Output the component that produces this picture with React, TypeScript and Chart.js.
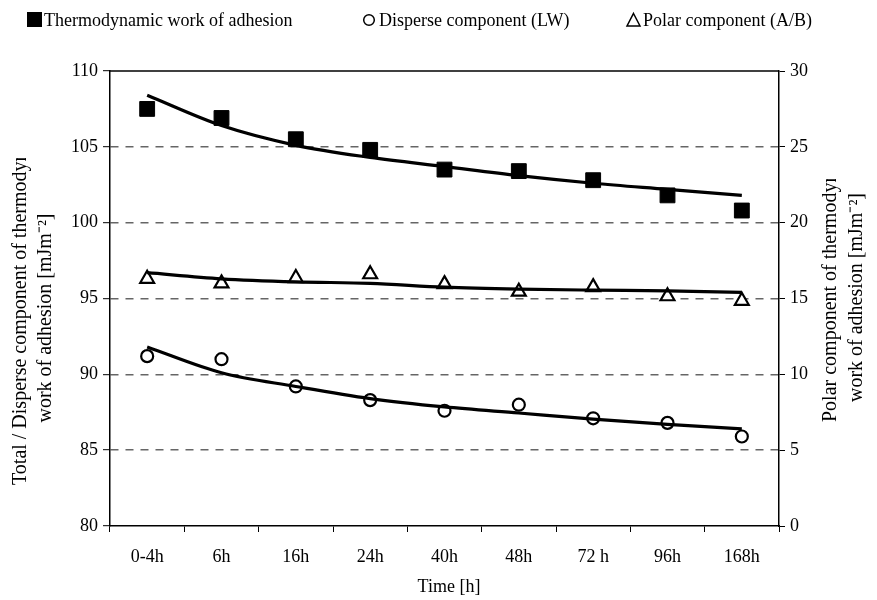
import React, { useEffect, useRef } from "react";
import { Chart, registerables } from "chart.js";

Chart.register(...registerables);

// Sampling times
const categories = ["0-4h", "6h", "16h", "24h", "40h", "48h", "72 h", "96h", "168h"];

// Measured values [mJ m^-2]
const workOfAdhesion = [107.5, 106.9, 105.5, 104.8, 103.5, 103.4, 102.8, 101.8, 100.8];
const disperseLW = [91.2, 91.0, 89.2, 88.3, 87.6, 88.0, 87.1, 86.8, 85.9];
const polarAB = [16.3, 16.0, 16.35, 16.6, 15.95, 15.45, 15.75, 15.15, 14.85];

// Trend lines through each series
const workTrend = [108.4, 106.4, 105.1, 104.3, 103.7, 103.1, 102.6, 102.2, 101.8];
const disperseTrend = [91.8, 90.1, 89.2, 88.4, 87.85, 87.45, 87.05, 86.7, 86.4];
const polarTrend = [16.7, 16.3, 16.1, 16.0, 15.75, 15.62, 15.55, 15.5, 15.4];

// Axis ranges
const leftMin = 80;
const leftMax = 110;
const rightMin = 0;
const rightMax = 30;
const tickStep = 5;

const FONT = "'Liberation Serif', 'Times New Roman', serif";

const legendItems = [
  { label: "Thermodynamic work of adhesion", marker: "square" },
  { label: "Disperse component (LW)", marker: "circle" },
  { label: "Polar component (A/B)", marker: "triangle" },
];

function drawVertical(
  ctx: CanvasRenderingContext2D,
  text: string,
  x: number,
  y: number,
  align: CanvasTextAlign,
  visiblePrefix?: string
) {
  ctx.save();
  ctx.translate(x, y);
  ctx.rotate(-Math.PI / 2);
  ctx.font = `20px ${FONT}`;
  ctx.fillStyle = "#000";
  ctx.textAlign = align;
  ctx.textBaseline = "alphabetic";
  if (visiblePrefix) {
    const w = ctx.measureText(visiblePrefix).width + ctx.measureText("n").width * 0.35;
    ctx.beginPath();
    ctx.rect(0, -30, w, 40);
    ctx.clip();
  }
  ctx.fillText(text, 0, 0);
  ctx.restore();
}

const decorations = {
  id: "decorations",
  afterDraw(chart: Chart) {
    const { ctx, chartArea } = chart;
    ctx.save();

    // top frame line
    ctx.strokeStyle = "#000";
    ctx.lineWidth = 1.5;
    ctx.beginPath();
    ctx.moveTo(chartArea.left, chartArea.top);
    ctx.lineTo(chartArea.right, chartArea.top);
    ctx.stroke();

    // legend row
    const legendX = [27, 363, 627];
    ctx.font = `18px ${FONT}`;
    ctx.fillStyle = "#000";
    ctx.textBaseline = "alphabetic";
    ctx.textAlign = "left";
    legendItems.forEach((item, i) => {
      const x = legendX[i];
      ctx.lineWidth = 1.5;
      ctx.strokeStyle = "#000";
      let textX = x;
      if (item.marker === "square") {
        ctx.fillRect(x, 12, 15, 15);
        textX = x + 17;
      } else if (item.marker === "circle") {
        ctx.beginPath();
        ctx.arc(x + 6, 20, 5.3, 0, Math.PI * 2);
        ctx.stroke();
        textX = x + 16;
      } else {
        ctx.beginPath();
        ctx.moveTo(x + 6.5, 13.5);
        ctx.lineTo(x + 13, 26);
        ctx.lineTo(x, 26);
        ctx.closePath();
        ctx.stroke();
        textX = x + 16;
      }
      ctx.fillText(item.label, textX, 26);
    });

    // x axis title
    ctx.textAlign = "center";
    ctx.font = `18px ${FONT}`;
    ctx.fillText("Time [h]", 449, 592);
    ctx.restore();

    // left axis title (two lines)
    drawVertical(
      ctx,
      "Total / Disperse component of thermodynamic",
      26,
      485,
      "left",
      "Total / Disperse component of thermody"
    );
    drawVertical(ctx, "work of adhesion [mJm\u207B\u00B2]", 51, 318, "center");

    // right axis title (two lines)
    drawVertical(
      ctx,
      "Polar component of thermodynamic",
      836,
      422,
      "left",
      "Polar component of thermody"
    );
    drawVertical(ctx, "work of adhesion [mJm\u207B\u00B2]", 862, 297.5, "center");
  },
};

export default function App() {
  const canvasRef = useRef<HTMLCanvasElement | null>(null);

  useEffect(() => {
    if (!canvasRef.current) return;
    const tickFont = { family: FONT, size: 18 };

    const chart = new Chart(canvasRef.current, {
      type: "line",
      data: {
        labels: categories,
        datasets: [
          {
            label: "Thermodynamic work of adhesion trend",
            data: workTrend,
            yAxisID: "y",
            borderColor: "#000",
            borderWidth: 3.2,
            pointRadius: 0,
            cubicInterpolationMode: "monotone",
            fill: false,
            order: 0,
          },
          {
            label: "Disperse component (LW) trend",
            data: disperseTrend,
            yAxisID: "y",
            borderColor: "#000",
            borderWidth: 3.2,
            pointRadius: 0,
            cubicInterpolationMode: "monotone",
            fill: false,
            order: 0,
          },
          {
            label: "Polar component (A/B) trend",
            data: polarTrend,
            yAxisID: "y1",
            borderColor: "#000",
            borderWidth: 3.2,
            pointRadius: 0,
            cubicInterpolationMode: "monotone",
            fill: false,
            order: 0,
          },
          {
            label: "Thermodynamic work of adhesion",
            data: workOfAdhesion,
            yAxisID: "y",
            showLine: false,
            pointStyle: "rect",
            pointRadius: 10.5,
            pointBorderWidth: 1,
            pointBackgroundColor: "#000",
            pointBorderColor: "#000",
            order: 1,
          },
          {
            label: "Disperse component (LW)",
            data: disperseLW,
            yAxisID: "y",
            showLine: false,
            pointStyle: "circle",
            pointRadius: 6,
            pointBorderWidth: 2.2,
            pointBackgroundColor: "#fff",
            pointBorderColor: "#000",
            order: 1,
          },
          {
            label: "Polar component (A/B)",
            data: polarAB,
            yAxisID: "y1",
            showLine: false,
            pointStyle: "triangle",
            pointRadius: 8,
            pointBorderWidth: 2.2,
            pointBackgroundColor: "#fff",
            pointBorderColor: "#000",
            order: 1,
          },
        ],
      },
      options: {
        responsive: false,
        animation: false,
        events: [],
        layout: { padding: { top: 71, left: 0, right: 0, bottom: 0 } },
        plugins: {
          legend: { display: false },
          tooltip: { enabled: false },
        },
        scales: {
          x: {
            type: "category",
            offset: true,
            afterFit: (s: any) => {
              s.height = 74;
            },
            grid: {
              offset: true,
              drawOnChartArea: false,
              drawTicks: true,
              tickLength: 6,
              tickColor: "#000",
              tickWidth: 1,
            },
            border: { display: true, color: "#000", width: 1.5 },
            ticks: { color: "#000", font: tickFont, padding: 14, maxRotation: 0 },
          },
          y: {
            position: "left",
            min: leftMin,
            max: leftMax,
            afterFit: (s: any) => {
              s.width = 110;
            },
            ticks: { stepSize: tickStep, color: "#000", font: tickFont, padding: 5 },
            grid: {
              color: (c: any) =>
                c.tick && (c.tick.value === leftMin || c.tick.value === leftMax)
                  ? "rgba(0,0,0,0)"
                  : "#666",
              lineWidth: 1.4,
              drawTicks: true,
              tickLength: 7,
              tickColor: "#000",
              tickWidth: 1,
              tickBorderDash: [],
            },
            border: { display: true, color: "#000", width: 1.5, dash: [8, 7] },
          },
          y1: {
            position: "right",
            min: rightMin,
            max: rightMax,
            afterFit: (s: any) => {
              s.width = 98;
            },
            ticks: { stepSize: tickStep, color: "#000", font: tickFont, padding: 5 },
            grid: {
              drawOnChartArea: false,
              drawTicks: true,
              tickLength: 6,
              tickColor: "#000",
              tickWidth: 1,
            },
            border: { display: true, color: "#000", width: 1.5 },
          },
        },
      },
      plugins: [decorations],
    });

    return () => chart.destroy();
  }, []);

  return (
    <div style={{ position: "absolute", left: 0, top: 0, width: 877, height: 600, background: "#fff" }}>
      <canvas ref={canvasRef} width={877} height={600} />
    </div>
  );
}
